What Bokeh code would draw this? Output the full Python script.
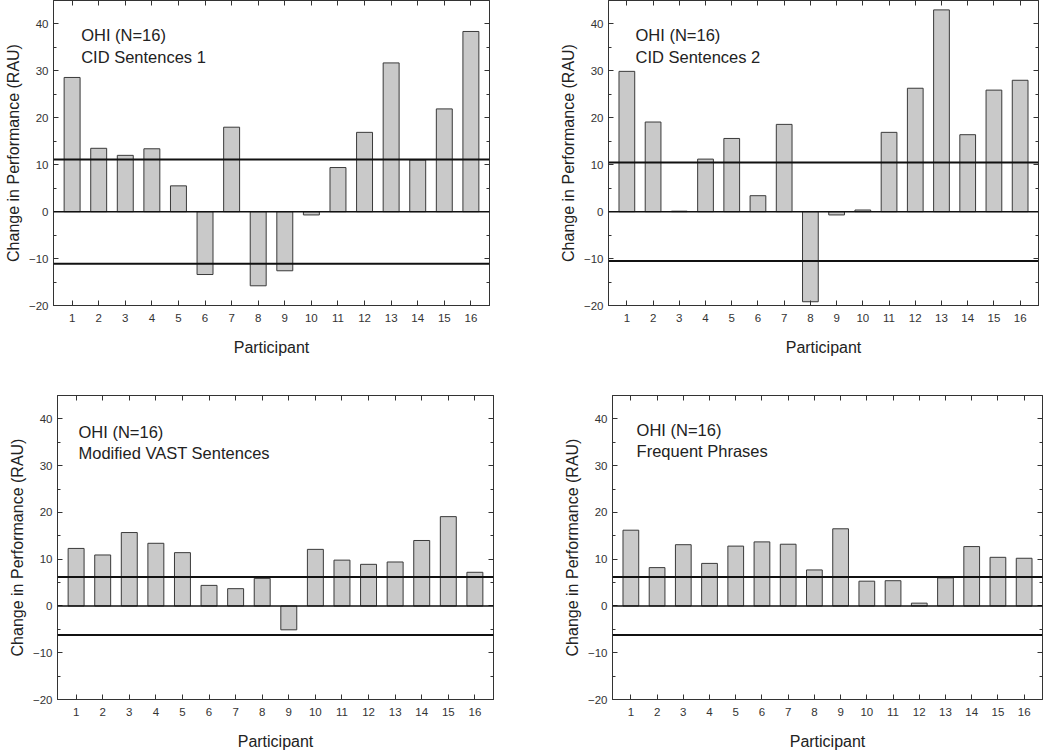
from bokeh.plotting import figure
from bokeh.layouts import column, row
from bokeh.models import Range1d, FixedTicker, Span, Label, LinearAxis, CustomJSTickFormatter
from bokeh.embed import file_html
from bokeh.resources import INLINE

participants = [1, 2, 3, 4, 5, 6, 7, 8, 9, 10, 11, 12, 13, 14, 15, 16]
cid1 = [28.6, 13.5, 12.0, 13.4, 5.5, -13.4, 18.0, -15.8, -12.6, -0.7, 9.4, 16.9, 31.7, 11.0, 21.9, 38.4]
cid2 = [29.9, 19.1, 0.1, 11.2, 15.6, 3.4, 18.6, -19.2, -0.7, 0.35, 16.9, 26.3, 43.0, 16.4, 25.9, 28.0]
vast = [12.3, 10.9, 15.7, 13.4, 11.4, 4.4, 3.7, 5.9, -5.1, 12.1, 9.8, 8.9, 9.4, 14.0, 19.1, 7.2]
freq = [16.2, 8.2, 13.1, 9.1, 12.8, 13.7, 13.2, 7.7, 16.5, 5.3, 5.4, 0.6, 6.0, 12.7, 10.4, 10.2]
thresholds = [11.1, 10.5, 6.2, 6.2]
group_label = "OHI (N=16)"
titles = ["CID Sentences 1", "CID Sentences 2", "Modified VAST Sentences", "Frequent Phrases"]
y_ticks = [-20, -10, 0, 10, 20, 30, 40]
y_minor = [-15, -5, 5, 15, 25, 35]

FONT = "Liberation Sans"


def panel(vals, thr, title, width, height, bl, br, bt, bb, tx, ty1, ty2):
    p = figure(width=width, height=height, x_range=Range1d(0.3, 16.7), y_range=Range1d(-20, 45),
               output_backend="svg", toolbar_location=None,
               min_border_left=bl, min_border_right=br, min_border_top=bt, min_border_bottom=bb)
    p.grid.visible = False
    p.outline_line_color = "#333333"
    p.outline_line_width = 1
    p.background_fill_color = "white"
    p.border_fill_color = "white"

    p.vbar(x=participants, top=vals, bottom=0, width=0.6,
           fill_color="#c9c9c9", line_color="#3a3a3a", line_width=1)
    p.add_layout(Span(location=0, dimension="width", line_color="#111111", line_width=1.5))
    p.add_layout(Span(location=thr, dimension="width", line_color="#111111", line_width=2))
    p.add_layout(Span(location=-thr, dimension="width", line_color="#111111", line_width=2))

    p.add_layout(LinearAxis(formatter=CustomJSTickFormatter(code="return ''")), "right")
    p.add_layout(LinearAxis(formatter=CustomJSTickFormatter(code="return ''")), "above")

    for ax in p.xaxis:
        ax.ticker = FixedTicker(ticks=participants)
    for ax in p.yaxis:
        ax.ticker = FixedTicker(ticks=y_ticks, minor_ticks=y_minor)
    for ax in p.axis:
        ax.axis_line_color = "#333333"
        ax.major_tick_line_color = "#333333"
        ax.minor_tick_line_color = "#333333"
        ax.major_tick_in = 5
        ax.major_tick_out = 0
        ax.minor_tick_in = 3
        ax.minor_tick_out = 0
        ax.major_label_text_font = FONT
        ax.major_label_text_font_size = "11.5px"
        ax.major_label_text_color = "#333333"
        ax.axis_label_text_font = FONT
        ax.axis_label_text_font_style = "normal"
        ax.axis_label_text_color = "#222222"
        ax.axis_label_text_font_size = "16px"
    for ax in (p.right[0], p.above[0]):
        ax.major_label_text_font_size = "1px"
        ax.major_label_standoff = 0
        ax.axis_label_standoff = 0

    p.below[0].axis_label = "Participant"
    p.below[0].major_label_standoff = 8
    p.below[0].axis_label_standoff = 14
    p.left[0].axis_label = "Change in Performance (RAU)"
    p.left[0].major_label_standoff = 5
    p.left[0].axis_label_standoff = 4

    p.add_layout(Label(x=tx, y=ty1, text=group_label, text_font=FONT, text_font_size="16.5px",
                       text_color="#222222", text_baseline="alphabetic"))
    p.add_layout(Label(x=tx, y=ty2, text=title, text_font=FONT, text_font_size="16.5px",
                       text_color="#222222", text_baseline="alphabetic"))
    return p


p1 = panel(cid1, thresholds[0], titles[0], 520, 375, 53, 31, 0, 70, 1.34, 37.6, 33.0)
p2 = panel(cid2, thresholds[1], titles[1], 530, 375, 88, 12, 0, 70, 1.33, 37.6, 33.0)
p3 = panel(vast, thresholds[2], titles[2], 520, 377, 57, 27, 20, 52, 1.09, 37.2, 32.6)
p4 = panel(freq, thresholds[3], titles[3], 530, 377, 92, 8, 20, 52, 1.22, 37.6, 33.1)

layout = column(row(p1, p2), row(p3, p4))

open("out.html", "w").write(file_html(layout, INLINE))
